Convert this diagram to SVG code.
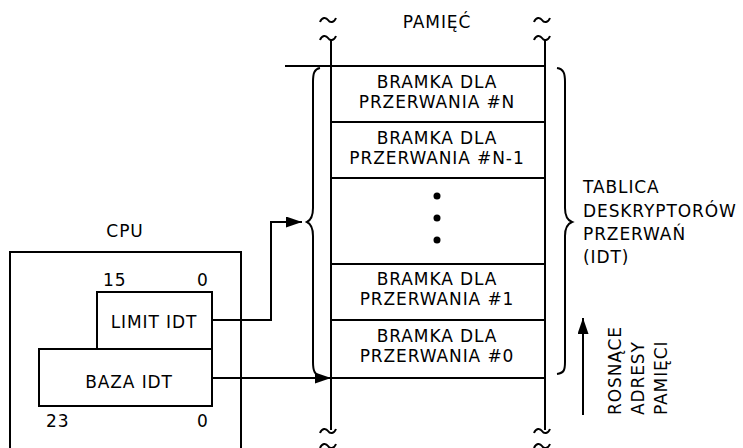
<svg xmlns="http://www.w3.org/2000/svg" width="743" height="448" viewBox="0 0 743 448">
<style>
text{font-family:"DejaVu Sans","Liberation Sans",sans-serif;font-size:17px;fill:#000;letter-spacing:0.9px}
.m{text-anchor:middle}
.ln{stroke:#000;stroke-width:2;fill:none}
.box{stroke:#000;stroke-width:2;fill:#fff}
</style>
<defs>
<marker id="ah" markerUnits="userSpaceOnUse" markerWidth="16" markerHeight="11" refX="16" refY="5.5" orient="auto">
<path d="M0,0 L16,5.5 L0,11 z" fill="#000"/>
</marker>
<path id="tl" d="M-8,2 C-6,-3 -2,-3 0,0 S6,3 8,-2" fill="none" stroke="#000" stroke-width="2"/>
</defs>
<rect width="743" height="448" fill="#fff"/>

<g id="memory">
<text class="m" x="437" y="28">PAMIĘĆ</text>
<use href="#tl" x="328" y="20"/>
<use href="#tl" x="328" y="38"/>
<use href="#tl" x="542" y="20"/>
<use href="#tl" x="542" y="38"/>
<path class="ln" d="M331,40 V430 M545,40 V430"/>
<use href="#tl" x="328" y="431"/>
<use href="#tl" x="328" y="446"/>
<use href="#tl" x="542" y="431"/>
<use href="#tl" x="542" y="446"/>
<path class="ln" d="M285,66 H545 M331,122 H545 M331,178 H545 M331,264 H545 M331,320 H545 M331,378 H545"/>
</g>

<g id="gate-n">
<text class="m" x="437" y="88">BRAMKA DLA</text>
<text class="m" x="437" y="108">PRZERWANIA #N</text>
</g>
<g id="gate-n1">
<text class="m" x="437" y="144">BRAMKA DLA</text>
<text class="m" x="437" y="164">PRZERWANIA #N-1</text>
</g>
<g id="gate-dots">
<circle cx="437" cy="196" r="3.5"/>
<circle cx="437" cy="218" r="3.5"/>
<circle cx="437" cy="240" r="3.5"/>
</g>
<g id="gate-1">
<text class="m" x="437" y="285">BRAMKA DLA</text>
<text class="m" x="437" y="305">PRZERWANIA #1</text>
</g>
<g id="gate-0">
<text class="m" x="437" y="342">BRAMKA DLA</text>
<text class="m" x="437" y="362">PRZERWANIA #0</text>
</g>

<g id="brace-left">
<path class="ln" d="M320,68 C314,69 313,74 313,82 L313,208 C313,216 311,220 307,222 C311,224 313,228 313,236 L313,362 C313,370 314,375 322,377"/>
</g>
<g id="brace-right">
<path class="ln" d="M557,68 C564,69 565,74 565,82 L565,208 C565,216 567,220 572,222 C567,224 565,228 565,236 L565,362 C565,370 564,373 557,374"/>
<text x="583" y="193">TABLICA</text>
<text x="583" y="217">DESKRYPTORÓW</text>
<text x="583" y="240">PRZERWAŃ</text>
<text x="583" y="263">(IDT)</text>
</g>

<g id="address-direction">
<path class="ln" d="M583,415 V318" marker-end="url(#ah)"/>
<text transform="translate(621,415) rotate(-90)">ROSNĄCE</text>
<text transform="translate(644,415) rotate(-90)">ADRESY</text>
<text transform="translate(667,415) rotate(-90)">PAMIĘCI</text>
</g>

<g id="cpu">
<text class="m" x="125" y="237">CPU</text>
<path class="ln" d="M10,450 V252 H241 V450"/>
</g>
<g id="limit-idt">
<rect class="box" x="97" y="292" width="115" height="57"/>
<text x="103" y="286">15</text>
<text x="197" y="286">0</text>
<text class="m" x="154" y="328">LIMIT IDT</text>
</g>
<g id="baza-idt">
<rect class="box" x="39" y="349" width="173" height="57"/>
<text class="m" x="129" y="388">BAZA IDT</text>
<text x="46" y="427">23</text>
<text x="197" y="427">0</text>
</g>

<g id="connectors">
<path class="ln" d="M212,320 H271 V222 H302" marker-end="url(#ah)"/>
<path class="ln" d="M212,378 H331" marker-end="url(#ah)"/>
</g>
</svg>
